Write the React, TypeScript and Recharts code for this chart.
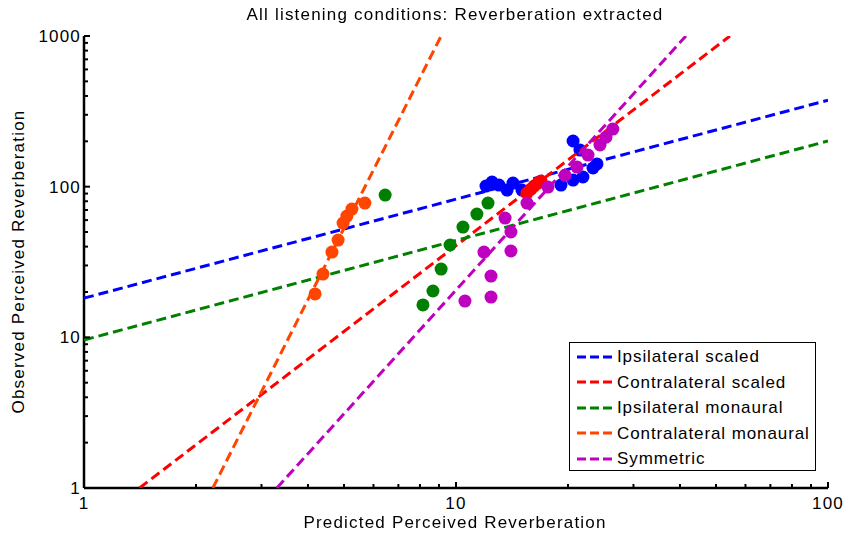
import { ComposedChart, Scatter, XAxis, YAxis } from "recharts";

// fitted lines (two end points each)
const ipsiScaledLine = [{ x: 1, y: 18.2 }, { x: 100, y: 375 }];
const contraScaledLine = [{ x: 1.41, y: 1 }, { x: 54.5, y: 1000 }];
const ipsiMonLine = [{ x: 1, y: 9.6 }, { x: 100, y: 201 }];
const contraMonLine = [{ x: 2.22, y: 1 }, { x: 9.12, y: 1000 }];
const symLine = [{ x: 3.3, y: 1 }, { x: 41.5, y: 1000 }];

// measured points
const ipsiScaledPts = [
  { x: 12.04, y: 100.9 }, { x: 12.5, y: 107.3 }, { x: 13.05, y: 102.5 },
  { x: 13.72, y: 94.9 }, { x: 14.23, y: 105.7 }, { x: 15.04, y: 94.9 },
  { x: 19.15, y: 102.5 }, { x: 20.64, y: 110.6 }, { x: 21.94, y: 115.9 },
  { x: 23.35, y: 133 }, { x: 23.93, y: 141.5 }, { x: 21.54, y: 175 },
  { x: 20.64, y: 201 },
];
const contraScaledPts = [
  { x: 15.52, y: 90.7 }, { x: 15.91, y: 96.4 }, { x: 16.21, y: 100.9 },
  { x: 16.6, y: 105.7 }, { x: 16.92, y: 108.9 },
];
const ipsiMonPts = [
  { x: 6.45, y: 88 }, { x: 12.19, y: 77.8 }, { x: 11.38, y: 65.8 },
  { x: 10.44, y: 53.9 }, { x: 9.64, y: 41 }, { x: 9.12, y: 28.4 },
  { x: 8.67, y: 20.3 }, { x: 8.15, y: 16.4 },
];
const contraMonPts = [
  { x: 5.69, y: 77.8 }, { x: 5.25, y: 71 }, { x: 5.09, y: 63.8 },
  { x: 4.97, y: 57.3 }, { x: 4.82, y: 44.2 }, { x: 4.64, y: 36.8 },
  { x: 4.39, y: 26.3 }, { x: 4.18, y: 19.4 },
];
const symPts = [
  { x: 10.57, y: 17.4 }, { x: 12.42, y: 18.5 }, { x: 12.42, y: 25.5 },
  { x: 11.89, y: 36.8 }, { x: 14.05, y: 37.4 }, { x: 14.05, y: 50 },
  { x: 13.55, y: 61.9 }, { x: 15.52, y: 77.8 }, { x: 17.67, y: 99.4 },
  { x: 19.63, y: 119 }, { x: 21.15, y: 135 }, { x: 22.64, y: 162 },
  { x: 24.38, y: 189 }, { x: 25.3, y: 213 }, { x: 26.4, y: 241 },
];

const series = [
  { name: "Ipsilateral scaled", color: "#0000ff", line: ipsiScaledLine, pts: ipsiScaledPts },
  { name: "Contralateral scaled", color: "#ff0000", line: contraScaledLine, pts: contraScaledPts },
  { name: "Ipsilateral monaural", color: "#008000", line: ipsiMonLine, pts: ipsiMonPts },
  { name: "Contralateral monaural", color: "#ff4500", line: contraMonLine, pts: contraMonPts },
  { name: "Symmetric", color: "#bf00bf", line: symLine, pts: symPts },
];

const xTicks = [1, 2, 3, 4, 5, 6, 7, 8, 9, 10, 20, 30, 40, 50, 60, 70, 80, 90, 100];
const yTicks = [
  1, 2, 3, 4, 5, 6, 7, 8, 9, 10, 20, 30, 40, 50, 60, 70, 80, 90,
  100, 200, 300, 400, 500, 600, 700, 800, 900, 1000,
];
const majors = [1, 10, 100, 1000];

const FONT = "'Liberation Sans', Arial, sans-serif";
const FS = 17;
const LS = "1.2px";
const DASH = "10 5";

function XTick(props: any) {
  const { x, y, payload } = props;
  const major = majors.includes(payload.value);
  return (
    <g>
      <line x1={x} y1={y} x2={x} y2={y - (major ? 6 : 4)} stroke="#000" strokeWidth={2} />
      {major && (
        <text x={x} y={y + 21} textAnchor="middle" fontSize={FS} letterSpacing={LS} fontFamily={FONT} fill="#000">
          {payload.value}
        </text>
      )}
    </g>
  );
}

function YTick(props: any) {
  const { x, y, payload } = props;
  const major = majors.includes(payload.value);
  return (
    <g>
      <line x1={x} y1={y} x2={x + (major ? 6 : 4)} y2={y} stroke="#000" strokeWidth={2} />
      {major && (
        <text x={x - 3} y={y + 6} textAnchor="end" fontSize={FS} letterSpacing={LS} fontFamily={FONT} fill="#000">
          {payload.value}
        </text>
      )}
    </g>
  );
}

const dot = (color: string) => (p: any) => <circle cx={p.cx} cy={p.cy} r={6.5} fill={color} />;
const noDot = () => <g />;

const textStyle = { fontFamily: FONT, fontSize: FS, letterSpacing: LS, color: "#000", lineHeight: "19px" };

export default function App() {
  return (
    <div style={{ position: "fixed", left: 0, top: 0, width: 845, height: 537, background: "#fff" }}>
      <ComposedChart
        width={845}
        height={537}
        margin={{ top: 36, right: 17, bottom: 0, left: 0 }}
        style={{ position: "absolute", left: 0, top: 0 }}
      >
        <XAxis
          dataKey="x"
          type="number"
          scale="log"
          domain={[1, 100]}
          allowDataOverflow
          ticks={xTicks}
          interval={0}
          height={49}
          tickSize={0}
          tickMargin={0}
          tickLine={false}
          tick={<XTick />}
          axisLine={{ stroke: "#000", strokeWidth: 2.5 }}
        />
        <YAxis
          dataKey="y"
          type="number"
          scale="log"
          domain={[1, 1000]}
          allowDataOverflow
          ticks={yTicks}
          interval={0}
          width={84}
          tickSize={0}
          tickMargin={0}
          tickLine={false}
          tick={<YTick />}
          axisLine={{ stroke: "#000", strokeWidth: 2.5 }}
        />
        {series.map((s) => [
          <Scatter
            key={s.name + "-pts"}
            data={s.pts}
            fill={s.color}
            shape={dot(s.color)}
            isAnimationActive={false}
          />,
          <Scatter
            key={s.name + "-line"}
            name={s.name}
            data={s.line}
            fill={s.color}
            line={{ stroke: s.color, strokeWidth: 3, strokeDasharray: DASH }}
            shape={noDot}
            isAnimationActive={false}
          />,
        ])}
      </ComposedChart>
      <div style={{ ...textStyle, position: "absolute", top: 5, left: 0, width: 910, textAlign: "center" }}>
        All listening conditions: Reverberation extracted
      </div>
      <div style={{ ...textStyle, position: "absolute", top: 513, left: 0, width: 910, textAlign: "center" }}>
        Predicted Perceived Reverberation
      </div>
      <div
        style={{
          ...textStyle,
          position: "absolute", left: 18, top: 262, width: 400, marginLeft: -200, marginTop: -10,
          textAlign: "center", transform: "rotate(-90deg)",
        }}
      >
        Observed Perceived Reverberation
      </div>
      <div
        style={{
          position: "absolute", left: 569, top: 342, width: 245, height: 126,
          border: "1px solid #000", background: "#fff", paddingTop: 1,
        }}
      >
        {series.map((s) => (
          <div key={s.name} style={{ ...textStyle, display: "flex", alignItems: "center", height: 25.5, letterSpacing: "0.9px" }}>
            <svg width={37} height={10} style={{ marginLeft: 7, marginRight: 3 }}>
              <line x1={0} y1={5} x2={36} y2={5} stroke={s.color} strokeWidth={3} strokeDasharray="9 4" />
            </svg>
            <span>{s.name}</span>
          </div>
        ))}
      </div>
    </div>
  );
}
